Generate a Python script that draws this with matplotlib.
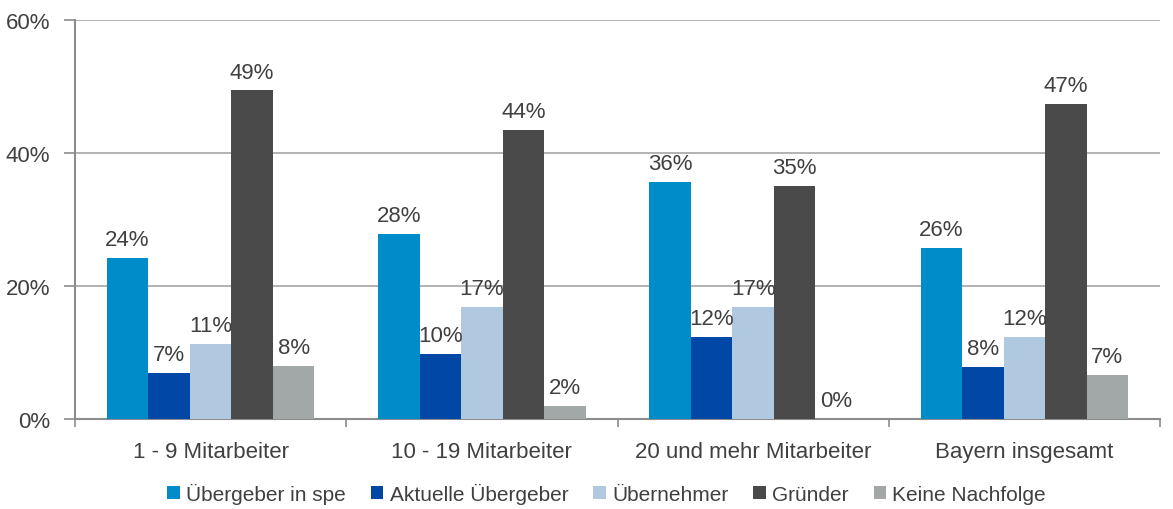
import matplotlib
matplotlib.use("Agg")
import matplotlib.pyplot as plt
import numpy as np

plt.rcParams['font.family'] = ['Liberation Sans', 'DejaVu Sans']

categories = ['1 - 9 Mitarbeiter', '10 - 19 Mitarbeiter', '20 und mehr Mitarbeiter', 'Bayern insgesamt']
series = ['Übergeber in spe', 'Aktuelle Übergeber', 'Übernehmer', 'Gründer', 'Keine Nachfolge']
values = {
    'Übergeber in spe':   [24.2, 27.8, 35.6, 25.7],
    'Aktuelle Übergeber': [6.9, 9.8, 12.3, 7.8],
    'Übernehmer':         [11.3, 16.8, 16.8, 12.4],
    'Gründer':            [49.4, 43.5, 35.0, 47.4],
    'Keine Nachfolge':    [7.9, 1.9, 0.0, 6.6],
}
colors = ['#008BC9', '#0047A6', '#B0C8E0', '#4A4A4A', '#A2A8A8']

fig = plt.figure(figsize=(11.73, 5.10), dpi=100)
ax = fig.add_axes([75 / 1173, 90 / 510, 1085 / 1173, 399 / 510])

x = np.arange(len(categories))
w = 0.153
text_col = '#404040'
for i, s in enumerate(series):
    pos = x + (i - 2) * w
    ax.bar(pos, values[s], width=w, color=colors[i], label=s, zorder=3)
    for p, v in zip(pos, values[s]):
        ax.text(p, v + 1.2, f'{round(v):.0f}%', ha='center', va='bottom',
                fontsize=16, color=text_col, zorder=4)

ax.set_xlim(-0.5, len(categories) - 0.5)
ax.set_ylim(0, 60)
ax.set_yticks([0, 20, 40, 60])
ax.set_yticklabels(['0%', '20%', '40%', '60%'], fontsize=16, color=text_col)
ax.yaxis.grid(True, color='#A6A6A6', linewidth=1.2, zorder=0)
ax.set_xticks(x)
ax.set_xticklabels(categories, fontsize=16, color=text_col)
ax.set_xticks(np.arange(len(categories) + 1) - 0.5, minor=True)
ax.tick_params(axis='x', which='major', length=0, pad=16)
ax.tick_params(axis='x', which='minor', length=6, color='#8C8C8C', width=1.2)
ax.tick_params(axis='y', length=8, color='#8C8C8C', width=1.2, pad=10)

for side in ['top', 'right']:
    ax.spines[side].set_visible(False)
for side in ['left', 'bottom']:
    ax.spines[side].set_color('#8C8C8C')
    ax.spines[side].set_linewidth(1.5)

ax.legend(loc='upper center', bbox_to_anchor=(0.49, -0.16), ncol=5, frameon=False,
          fontsize=15, labelcolor=text_col, handlelength=0.6, handleheight=0.6,
          handletextpad=0.3, columnspacing=1.2, borderaxespad=0, borderpad=0)

fig.savefig('out.png', dpi=100)
